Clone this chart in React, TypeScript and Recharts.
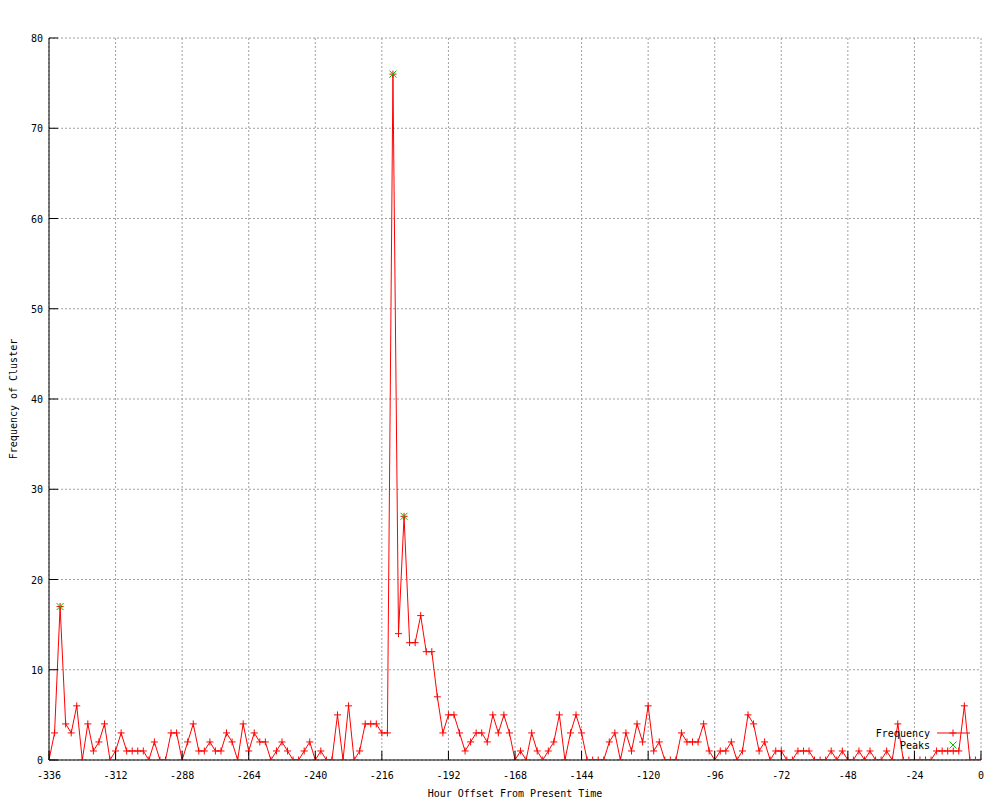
import React from 'react';
import { ComposedChart, Line, XAxis, YAxis, CartesianGrid, Legend, Label } from 'recharts';

const hours = [
  -336, -334, -332, -330, -328, -326, -324, -322, -320, -318,
  -316, -314, -312, -310, -308, -306, -304, -302, -300, -298,
  -296, -294, -292, -290, -288, -286, -284, -282, -280, -278,
  -276, -274, -272, -270, -268, -266, -264, -262, -260, -258,
  -256, -254, -252, -250, -248, -246, -244, -242, -240, -238,
  -236, -234, -232, -230, -228, -226, -224, -222, -220, -218,
  -216, -214, -212, -210, -208, -206, -204, -202, -200, -198,
  -196, -194, -192, -190, -188, -186, -184, -182, -180, -178,
  -176, -174, -172, -170, -168, -166, -164, -162, -160, -158,
  -156, -154, -152, -150, -148, -146, -144, -142, -140, -138,
  -136, -134, -132, -130, -128, -126, -124, -122, -120, -118,
  -116, -114, -112, -110, -108, -106, -104, -102, -100, -98,
  -96, -94, -92, -90, -88, -86, -84, -82, -80, -78,
  -76, -74, -72, -70, -68, -66, -64, -62, -60, -58,
  -56, -54, -52, -50, -48, -46, -44, -42, -40, -38,
  -36, -34, -32, -30, -28, -26, -24, -22, -20, -18,
  -16, -14, -12, -10, -8, -6, -4, -2, 0,
];

const frequency = [
  0, 3, 17, 4, 3, 6, 0, 4, 1, 2,
  4, 0, 1, 3, 1, 1, 1, 1, 0, 2,
  0, 0, 3, 3, 0, 2, 4, 1, 1, 2,
  1, 1, 3, 2, 0, 4, 1, 3, 2, 2,
  0, 1, 2, 1, 0, 0, 1, 2, 0, 1,
  0, 0, 5, 0, 6, 0, 1, 4, 4, 4,
  3, 3, 76, 14, 27, 13, 13, 16, 12, 12,
  7, 3, 5, 5, 3, 1, 2, 3, 3, 2,
  5, 3, 5, 3, 0, 1, 0, 3, 1, 0,
  1, 2, 5, 0, 3, 5, 3, 0, 0, 0,
  0, 2, 3, 0, 3, 1, 4, 2, 6, 1,
  2, 0, 0, 0, 3, 2, 2, 2, 4, 1,
  0, 1, 1, 2, 0, 1, 5, 4, 1, 2,
  0, 1, 1, 0, 0, 1, 1, 1, 0, 0,
  0, 1, 0, 1, 0, 0, 1, 0, 1, 0,
  0, 1, 0, 4, 0, 0, 0, 0, 0, 0,
  1, 1, 1, 1, 1, 6, 0, 0, 0,
];

const peakHours = [-332, -212, -208];
const peakValues = [17, 76, 27];

const xTicks = [-336, -312, -288, -264, -240, -216, -192, -168, -144, -120, -96, -72, -48, -24, 0];
const yTicks = [0, 10, 20, 30, 40, 50, 60, 70, 80];

const TITLE = 'Frequency of Cluster 639405 Over Time: new world order bankers';
const X_LABEL = 'Hour Offset From Present Time';
const Y_LABEL = 'Frequency of Cluster';
const SERIES_NAMES = ['Frequency', 'Peaks'];

const FONT = '"DejaVu Sans Mono", "Liberation Mono", monospace';
const RED = '#ff0000';
const GREEN = '#00c000';
const TICK_LEN = 9;

const data = hours.map((h, i) => {
  const pi = peakHours.indexOf(h);
  return { hour: h, freq: frequency[i], peak: pi >= 0 ? peakValues[pi] : null };
});

const PlusDot = (props: any) => {
  const { cx, cy, index } = props;
  if (cx == null || cy == null) return <g key={`p${index}`} />;
  const s = 3.5;
  return (
    <path
      key={`p${index}`}
      d={`M${cx - s},${cy}H${cx + s}M${cx},${cy - s}V${cy + s}`}
      stroke={RED}
      strokeWidth={1}
      fill="none"
    />
  );
};

const CrossDot = (props: any) => {
  const { cx, cy, index, payload } = props;
  if (cx == null || cy == null || payload == null || payload.peak == null) return <g key={`c${index}`} />;
  const s = 3.5;
  return (
    <path
      key={`c${index}`}
      d={`M${cx - s},${cy - s}L${cx + s},${cy + s}M${cx - s},${cy + s}L${cx + s},${cy - s}`}
      stroke={GREEN}
      strokeWidth={1}
      fill="none"
    />
  );
};

const BottomTick = (props: any) => {
  const { x, y, payload } = props;
  return (
    <g>
      <line x1={x} y1={y} x2={x} y2={y - TICK_LEN} stroke="#000" />
      <text x={x} y={y + 19} textAnchor="middle" fontFamily={FONT} fontSize={10} fill="#000">
        {String(payload.value)}
      </text>
    </g>
  );
};

const TopTick = (props: any) => {
  const { x, y } = props;
  return <line x1={x} y1={y} x2={x} y2={y + TICK_LEN} stroke="#000" />;
};

const LeftTick = (props: any) => {
  const { x, y, payload } = props;
  return (
    <g>
      <line x1={x} y1={y} x2={x + TICK_LEN} y2={y} stroke="#000" />
      <text x={x - 6} y={y + 4} textAnchor="end" fontFamily={FONT} fontSize={10} fill="#000">
        {String(payload.value)}
      </text>
    </g>
  );
};

const RightTick = (props: any) => {
  const { x, y } = props;
  return <line x1={x} y1={y} x2={x - TICK_LEN} y2={y} stroke="#000" />;
};

const YLabelContent = (props: any) => {
  const vb = props.viewBox || { x: 0, y: 38, width: 49, height: 722 };
  const cx = vb.x + 13;
  const cy = vb.y + vb.height / 2;
  return (
    <text
      x={cx}
      y={cy}
      transform={`rotate(-90, ${cx}, ${cy})`}
      textAnchor="middle"
      dominantBaseline="central"
      fontFamily={FONT}
      fontSize={10}
      fill="#000"
    >
      {Y_LABEL}
    </text>
  );
};

const LegendContent = () => (
  <svg width={130} height={40} style={{ display: 'block', overflow: 'visible' }}>
    <text x={70} y={17} textAnchor="end" fontFamily={FONT} fontSize={10} fill="#000">
      {SERIES_NAMES[0]}
    </text>
    <line x1={77} y1={13} x2={110} y2={13} stroke={RED} strokeWidth={1} />
    <path d="M89.5,13H96.5M93,9.5V16.5" stroke={RED} strokeWidth={1} fill="none" />
    <text x={70} y={29} textAnchor="end" fontFamily={FONT} fontSize={10} fill="#000">
      {SERIES_NAMES[1]}
    </text>
    <path d="M89.5,21.5L96.5,28.5M89.5,28.5L96.5,21.5" stroke={GREEN} strokeWidth={1} fill="none" />
  </svg>
);

export default function App() {
  return (
    <div style={{ position: 'absolute', left: 0, top: 0, width: 1000, height: 800, background: '#fff' }}>
      <ComposedChart
        width={1000}
        height={800}
        data={data}
        margin={{ top: 38, right: 19, bottom: 0, left: 0 }}
      >
        <CartesianGrid stroke="#a0a0a0" strokeDasharray="2 2" />
        <XAxis
          dataKey="hour"
          type="number"
          domain={[-336, 0]}
          ticks={xTicks}
          interval={0}
          height={40}
          tickSize={0}
          tickMargin={0}
          tickLine={false}
          axisLine={{ stroke: '#000' }}
          tick={<BottomTick />}
          allowDataOverflow
        >
          <Label
            value={X_LABEL}
            position="insideBottom"
            offset={3}
            style={{ fontFamily: FONT, fontSize: 10, fill: '#000' }}
          />
        </XAxis>
        <XAxis
          xAxisId="top"
          orientation="top"
          dataKey="hour"
          type="number"
          domain={[-336, 0]}
          ticks={xTicks}
          interval={0}
          height={0}
          tickSize={0}
          tickMargin={0}
          tickLine={false}
          axisLine={{ stroke: '#000' }}
          tick={<TopTick />}
          allowDataOverflow
        >
          <Label
            value={TITLE}
            position="top"
            offset={16}
            style={{ fontFamily: FONT, fontSize: 10, fill: '#000' }}
          />
        </XAxis>
        <YAxis
          type="number"
          domain={[0, 80]}
          ticks={yTicks}
          interval={0}
          width={49}
          tickSize={0}
          tickMargin={0}
          tickLine={false}
          axisLine={{ stroke: '#000' }}
          tick={<LeftTick />}
          allowDataOverflow
        >
          <Label content={<YLabelContent />} />
        </YAxis>
        <YAxis
          yAxisId="right"
          orientation="right"
          type="number"
          domain={[0, 80]}
          ticks={yTicks}
          interval={0}
          width={0}
          tickSize={0}
          tickMargin={0}
          tickLine={false}
          axisLine={{ stroke: '#000' }}
          tick={<RightTick />}
          allowDataOverflow
        />
        <Legend
          layout="vertical"
          align="center"
          verticalAlign="middle"
          content={<LegendContent />}
          wrapperStyle={{ position: 'absolute', left: 860, top: 720, width: 130, height: 40 }}
        />
        <Line
          dataKey="freq"
          name={SERIES_NAMES[0]}
          type="linear"
          stroke={RED}
          strokeWidth={1}
          dot={PlusDot}
          activeDot={false}
          isAnimationActive={false}
        />
        <Line
          dataKey="peak"
          name={SERIES_NAMES[1]}
          type="linear"
          stroke="none"
          dot={CrossDot}
          activeDot={false}
          connectNulls={false}
          isAnimationActive={false}
        />
      </ComposedChart>
    </div>
  );
}
